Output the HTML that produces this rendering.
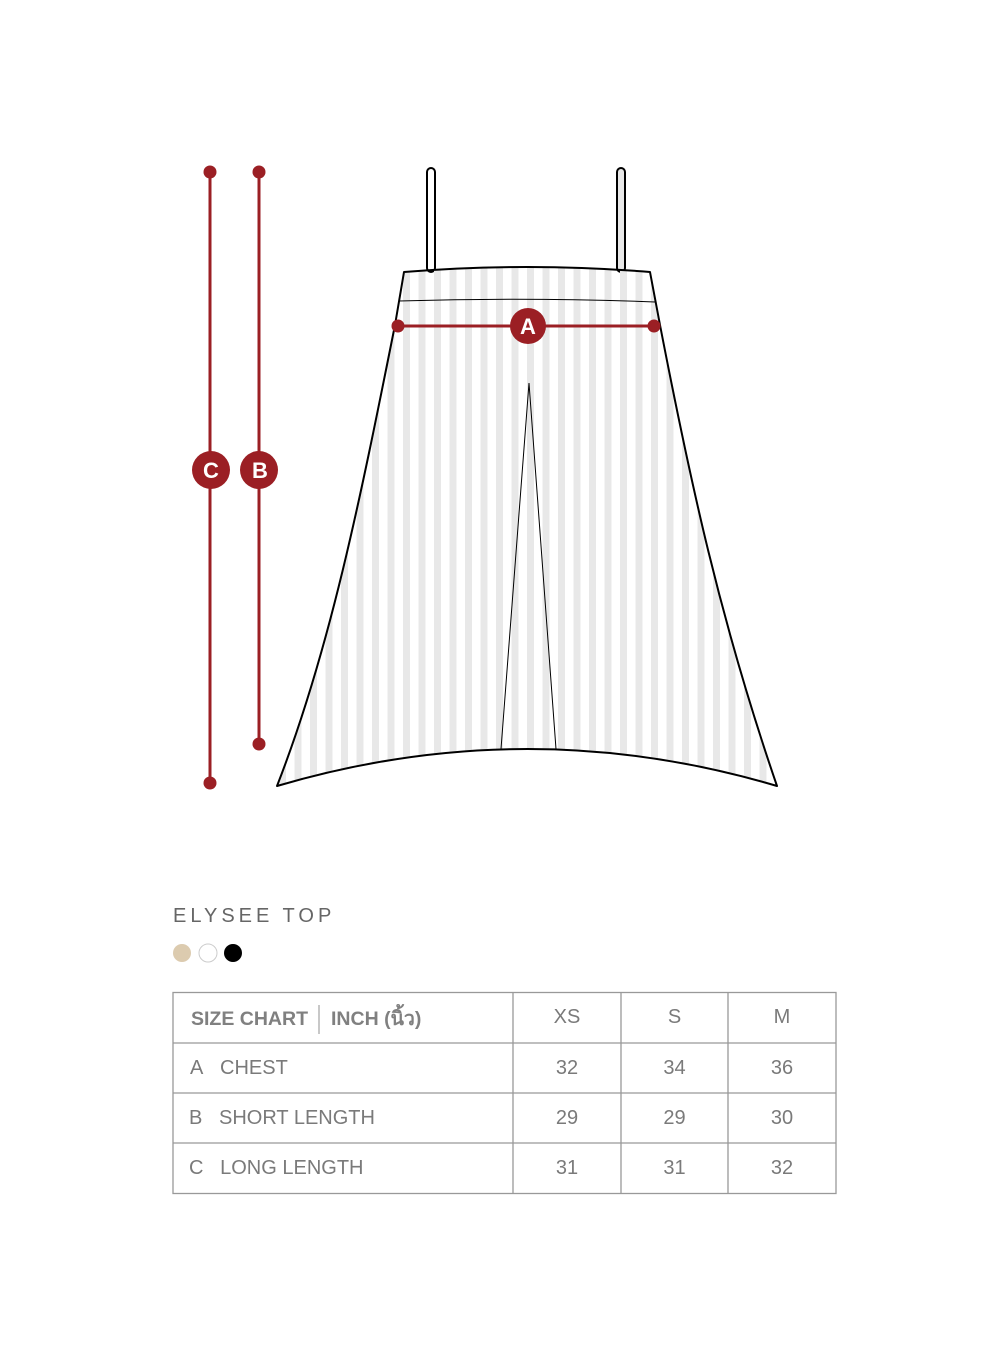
<!DOCTYPE html>
<html><head><style>
body{margin:0;background:#fff;width:1000px;height:1360px;position:relative;font-family:"Liberation Sans","Noto Sans CJK SC",sans-serif;overflow:hidden}
.t{position:absolute;color:#7a7a7a;font-size:20px;line-height:1}
</style></head><body>
<svg width="1000" height="1360" style="position:absolute;left:0;top:0">
<defs>
<pattern id="st" x="0" y="0" width="15.5" height="10" patternUnits="userSpaceOnUse">
<rect x="0" y="0" width="7" height="10" fill="#e8e8e8"/>
</pattern>
<clipPath id="g"><path d="M404,272 Q528,262 650,272 L660,325 C690,480 720,620 777,786 Q528,712 277,786 C330,650 360,500 395,325 Z"/></clipPath>
</defs>
<rect x="427" y="168" width="8" height="104" rx="4" fill="#fff" stroke="#000" stroke-width="2"/>
<rect x="617" y="168" width="8" height="104" rx="4" fill="#e8e8e8" stroke="#000" stroke-width="2"/>
<rect x="270" y="260" width="520" height="540" fill="url(#st)" clip-path="url(#g)"/>
<path d="M404,272 Q528,262 650,272 L660,325 C690,480 720,620 777,786 Q528,712 277,786 C330,650 360,500 395,325 Z" fill="none" stroke="#000" stroke-width="2" stroke-linejoin="round"/>
<path d="M399,301 Q528,297 655,302" fill="none" stroke="#000" stroke-width="1"/>
<path d="M501,749 L529,383 L556,749" fill="none" stroke="#000" stroke-width="1"/>
<g fill="#9b1f24" stroke="#9b1f24">
<line x1="398" y1="326" x2="654" y2="326" stroke-width="3"/>
<circle cx="398" cy="326" r="6.5" stroke="none"/><circle cx="654" cy="326" r="6.5" stroke="none"/>
<circle cx="528" cy="326" r="18" stroke="none"/>
<line x1="210" y1="172" x2="210" y2="783" stroke-width="3"/>
<circle cx="210" cy="172" r="6.5" stroke="none"/><circle cx="210" cy="783" r="6.5" stroke="none"/>
<circle cx="211" cy="470" r="19" stroke="none"/>
<line x1="259" y1="172" x2="259" y2="744" stroke-width="3"/>
<circle cx="259" cy="172" r="6.5" stroke="none"/><circle cx="259" cy="744" r="6.5" stroke="none"/>
<circle cx="259" cy="470" r="19" stroke="none"/>
</g>
<g fill="#fff" font-family="Liberation Sans,sans-serif" font-weight="bold" font-size="22" text-anchor="middle">
<text x="528" y="334">A</text><text x="211" y="478">C</text><text x="260" y="478">B</text>
</g>
<circle cx="182" cy="953" r="9" fill="#dccbaf"/>
<circle cx="208" cy="953" r="9" fill="#fff" stroke="#ccc" stroke-width="1"/>
<circle cx="233" cy="953" r="9" fill="#000"/>
<g stroke="#999" stroke-width="1.3" fill="none">
<rect x="173" y="992.5" width="663" height="201"/>
<line x1="173" y1="1043" x2="836" y2="1043"/>
<line x1="173" y1="1093" x2="836" y2="1093"/>
<line x1="173" y1="1143" x2="836" y2="1143"/>
<line x1="513" y1="992" x2="513" y2="1194"/>
<line x1="621" y1="992" x2="621" y2="1194"/>
<line x1="728" y1="992" x2="728" y2="1194"/>
<line x1="319" y1="1005" x2="319" y2="1034" stroke="#aaa"/>
</g>
</svg>
<div class="t" style="left:173px;top:906px;letter-spacing:4px;font-size:20px;color:#666">ELYSEE TOP</div>
<div class="t" style="left:191px;top:1010px;font-weight:bold;color:#808080;font-size:19.5px">SIZE CHART</div>
<div class="t" style="left:331px;top:1010px;font-weight:bold;color:#808080;font-size:19.5px">INCH (นิ้ว)</div>
<div class="t" style="left:513px;width:108px;top:1007px;text-align:center">XS</div>
<div class="t" style="left:621px;width:107px;top:1007px;text-align:center">S</div>
<div class="t" style="left:728px;width:108px;top:1007px;text-align:center">M</div>
<div class="t" style="left:190px;top:1058px">A&nbsp;&nbsp;&nbsp;CHEST</div>
<div class="t" style="left:189px;top:1108px">B&nbsp;&nbsp;&nbsp;SHORT LENGTH</div>
<div class="t" style="left:189px;top:1158px">C&nbsp;&nbsp;&nbsp;LONG LENGTH</div>
<div class="t" style="left:513px;width:108px;top:1058px;text-align:center">32</div>
<div class="t" style="left:621px;width:107px;top:1058px;text-align:center">34</div>
<div class="t" style="left:728px;width:108px;top:1058px;text-align:center">36</div>
<div class="t" style="left:513px;width:108px;top:1108px;text-align:center">29</div>
<div class="t" style="left:621px;width:107px;top:1108px;text-align:center">29</div>
<div class="t" style="left:728px;width:108px;top:1108px;text-align:center">30</div>
<div class="t" style="left:513px;width:108px;top:1158px;text-align:center">31</div>
<div class="t" style="left:621px;width:107px;top:1158px;text-align:center">31</div>
<div class="t" style="left:728px;width:108px;top:1158px;text-align:center">32</div>
</body></html>
